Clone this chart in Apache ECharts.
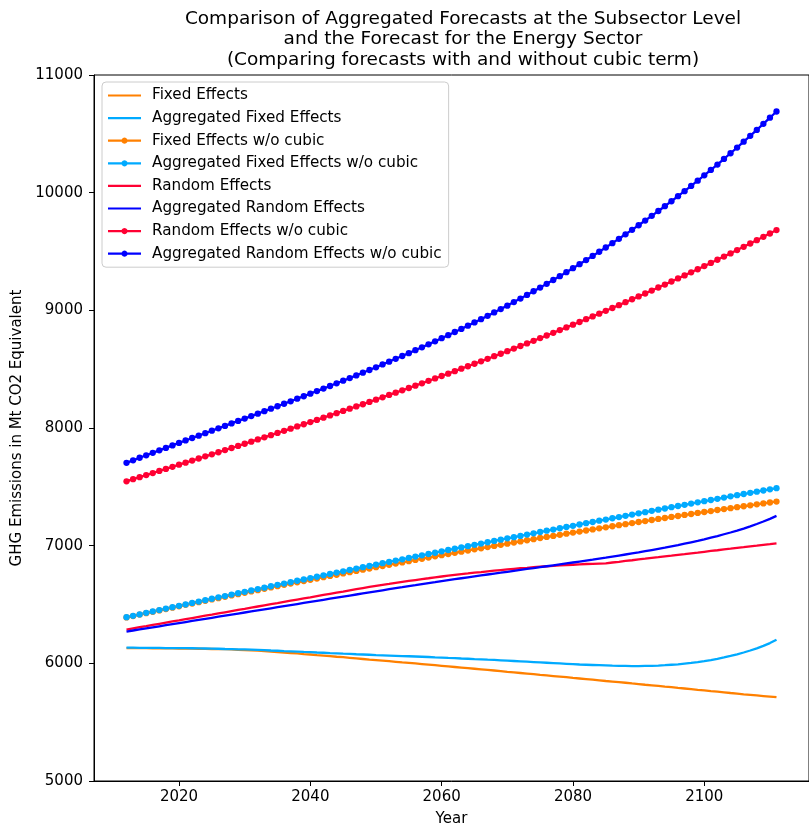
<!DOCTYPE html>
<html>
<head>
<meta charset="utf-8">
<script src="https://cdn.jsdelivr.net/npm/echarts@6/dist/echarts.min.js"></script>
<style>
  html, body { margin: 0; padding: 0; background: #fff; }
  #chart { width: 809px; height: 832px; }
</style>
</head>
<body>
<div id="chart"></div>
<script>
// Forecast years
const years = [];
for (let y = 2012; y <= 2111; y++) years.push(y);

// GHG emissions, Mt CO2 equivalent
const fixedEffects = [
  6130, 6130, 6129, 6129, 6128, 6128, 6127, 6127, 6126, 6126,
  6125, 6124, 6123, 6122, 6121, 6120, 6118, 6115, 6113, 6110,
  6108, 6104, 6100, 6096, 6092, 6088, 6084, 6079, 6075, 6070,
  6066, 6061, 6056, 6052, 6047, 6042, 6037, 6032, 6028, 6023,
  6018, 6013, 6008, 6004, 5999, 5994, 5989, 5984, 5979, 5974,
  5969, 5964, 5959, 5954, 5949, 5944, 5939, 5934, 5928, 5923,
  5918, 5913, 5908, 5902, 5897, 5892, 5887, 5882, 5876, 5871,
  5866, 5861, 5856, 5850, 5845, 5840, 5835, 5829, 5824, 5818,
  5813, 5808, 5802, 5797, 5791, 5786, 5781, 5775, 5770, 5764,
  5759, 5754, 5748, 5743, 5737, 5732, 5727, 5722, 5717, 5712
];

const aggFixedEffects = [
  6133, 6133, 6132, 6132, 6131, 6131, 6130, 6130, 6129, 6129,
  6128, 6127, 6126, 6125, 6124, 6122, 6121, 6119, 6118, 6116,
  6114, 6112, 6109, 6107, 6104, 6102, 6100, 6097, 6095, 6092,
  6090, 6087, 6085, 6082, 6080, 6077, 6075, 6073, 6070, 6068,
  6066, 6064, 6062, 6060, 6058, 6056, 6054, 6051, 6049, 6046,
  6044, 6041, 6039, 6036, 6034, 6031, 6029, 6026, 6023, 6020,
  6017, 6014, 6011, 6008, 6005, 6002, 5999, 5996, 5993, 5990,
  5988, 5986, 5984, 5982, 5980, 5979, 5978, 5977, 5977, 5978,
  5979, 5981, 5984, 5988, 5992, 5998, 6004, 6011, 6019, 6028,
  6038, 6050, 6063, 6077, 6092, 6109, 6127, 6148, 6172, 6200
];

const fixedNoCubic = [
  6390, 6402, 6414, 6426, 6438, 6450, 6461, 6473, 6485, 6497,
  6508, 6520, 6531, 6543, 6554, 6566, 6577, 6588, 6600, 6611,
  6622, 6633, 6645, 6656, 6667, 6678, 6689, 6699, 6710, 6721,
  6732, 6743, 6753, 6764, 6775, 6785, 6796, 6806, 6817, 6827,
  6838, 6848, 6858, 6868, 6879, 6889, 6899, 6909, 6919, 6929,
  6939, 6949, 6959, 6969, 6978, 6988, 6998, 7007, 7017, 7027,
  7036, 7046, 7055, 7065, 7074, 7083, 7092, 7102, 7111, 7120,
  7129, 7138, 7147, 7156, 7165, 7174, 7183, 7192, 7201, 7209,
  7218, 7227, 7235, 7244, 7252, 7261, 7269, 7278, 7286, 7294,
  7303, 7311, 7319, 7327, 7335, 7343, 7351, 7359, 7367, 7375
];

const aggFixedNoCubic = [
  6392, 6404, 6416, 6429, 6441, 6453, 6465, 6477, 6489, 6501,
  6513, 6525, 6537, 6549, 6561, 6572, 6584, 6596, 6608, 6620,
  6631, 6643, 6655, 6667, 6678, 6690, 6702, 6713, 6725, 6736,
  6748, 6759, 6771, 6782, 6794, 6805, 6817, 6828, 6839, 6851,
  6862, 6873, 6884, 6896, 6907, 6918, 6929, 6940, 6952, 6963,
  6974, 6985, 6996, 7007, 7018, 7029, 7040, 7051, 7062, 7072,
  7083, 7094, 7105, 7116, 7127, 7137, 7148, 7159, 7169, 7180,
  7191, 7201, 7212, 7222, 7233, 7243, 7254, 7264, 7275, 7285,
  7296, 7306, 7316, 7327, 7337, 7347, 7358, 7368, 7378, 7388,
  7398, 7409, 7419, 7429, 7439, 7449, 7459, 7469, 7479, 7489
];

const randomEffects = [
  6287, 6297, 6307, 6316, 6326, 6336, 6346, 6356, 6365, 6375,
  6385, 6395, 6405, 6414, 6424, 6434, 6444, 6454, 6463, 6473,
  6483, 6493, 6503, 6512, 6522, 6532, 6542, 6552, 6561, 6571,
  6581, 6591, 6601, 6610, 6620, 6630, 6640, 6649, 6658, 6667,
  6675, 6684, 6692, 6700, 6708, 6716, 6723, 6731, 6738, 6745,
  6752, 6758, 6764, 6771, 6776, 6782, 6788, 6793, 6798, 6803,
  6808, 6812, 6817, 6821, 6825, 6828, 6832, 6835, 6838, 6841,
  6844, 6846, 6848, 6850, 6857, 6863, 6870, 6876, 6883, 6889,
  6896, 6902, 6909, 6915, 6922, 6928, 6935, 6941, 6948, 6955,
  6961, 6968, 6974, 6981, 6987, 6994, 7000, 7007, 7013, 7020
];

const aggRandomEffects = [
  6270, 6279, 6288, 6297, 6306, 6315, 6324, 6333, 6342, 6351,
  6360, 6369, 6378, 6387, 6396, 6405, 6414, 6423, 6432, 6441,
  6450, 6459, 6468, 6477, 6486, 6495, 6504, 6513, 6522, 6531,
  6540, 6549, 6558, 6567, 6576, 6585, 6594, 6603, 6612, 6621,
  6630, 6639, 6647, 6656, 6664, 6673, 6682, 6690, 6699, 6707,
  6715, 6723, 6731, 6739, 6747, 6755, 6763, 6770, 6778, 6786,
  6794, 6802, 6809, 6817, 6825, 6833, 6841, 6849, 6857, 6865,
  6873, 6881, 6890, 6898, 6907, 6916, 6925, 6934, 6943, 6953,
  6963, 6973, 6983, 6994, 7005, 7017, 7029, 7041, 7054, 7068,
  7082, 7097, 7112, 7128, 7145, 7164, 7184, 7205, 7228, 7253
];

const randomNoCubic = [
  7547, 7565, 7582, 7600, 7617, 7635, 7652, 7670, 7688, 7705,
  7723, 7741, 7759, 7776, 7794, 7812, 7830, 7848, 7866, 7884,
  7903, 7921, 7939, 7958, 7976, 7994, 8013, 8032, 8050, 8069,
  8088, 8107, 8126, 8145, 8164, 8183, 8202, 8222, 8241, 8261,
  8281, 8300, 8320, 8340, 8360, 8380, 8401, 8421, 8442, 8462,
  8483, 8504, 8525, 8546, 8567, 8588, 8610, 8631, 8653, 8675,
  8697, 8719, 8741, 8764, 8786, 8809, 8832, 8855, 8878, 8901,
  8925, 8948, 8972, 8996, 9020, 9044, 9069, 9094, 9118, 9143,
  9168, 9194, 9219, 9245, 9271, 9297, 9323, 9349, 9376, 9403,
  9430, 9457, 9484, 9512, 9540, 9568, 9596, 9625, 9653, 9682
];

const aggRandomNoCubic = [
  7704, 7725, 7747, 7768, 7789, 7810, 7831, 7852, 7873, 7894,
  7915, 7935, 7956, 7977, 7997, 8018, 8039, 8060, 8080, 8101,
  8122, 8143, 8164, 8185, 8206, 8227, 8249, 8270, 8292, 8314,
  8335, 8357, 8380, 8402, 8424, 8447, 8470, 8493, 8516, 8540,
  8564, 8588, 8612, 8636, 8661, 8686, 8711, 8737, 8763, 8789,
  8816, 8842, 8870, 8897, 8925, 8953, 8982, 9011, 9040, 9070,
  9100, 9131, 9162, 9193, 9225, 9258, 9290, 9324, 9358, 9392,
  9427, 9462, 9498, 9534, 9571, 9608, 9646, 9684, 9723, 9763,
  9803, 9844, 9885, 9927, 9970, 10013, 10057, 10102, 10147, 10193,
  10239, 10287, 10335, 10383, 10433, 10483, 10533, 10585, 10637, 10690
];

const xTicks = [2020, 2040, 2060, 2080, 2100];

const ORANGE = '#ff8000';
const SKY = '#00aaff';
const RED = '#ff0033';
const BLUE = '#0000ff';
const FONT = 'DejaVu Sans';
const LINE_W = 2.3;

// legend glyphs: a plain stroke, and a stroke with a small round dot in the middle
// (both outlines wound the same way so the dot fills solid)
const ICON_LINE = 'path://M0,6 L33,6 L33,8.2 L0,8.2 Z';
const ICON_DOT = 'path://M0,6 L33,6 L33,8.2 L0,8.2 Z ' +
  'M19.6,7.1 L19.2,8.6 L18.1,9.7 L16.5,10.2 L14.9,9.7 L13.8,8.6 L13.4,7.1 L13.8,5.6 L14.9,4.5 L16.5,4 L18.1,4.5 L19.2,5.6 Z';

function pairs(vals) { return years.map((y, i) => [y, vals[i]]); }

function plain(name, vals, color) {
  return {
    name, type: 'line', data: pairs(vals),
    symbol: 'none', smooth: false,
    lineStyle: { color, width: LINE_W },
    itemStyle: { color },
    emphasis: { disabled: true }
  };
}
function dotted(name, vals, color) {
  return {
    name, type: 'line', data: pairs(vals),
    symbol: 'circle', symbolSize: 6.3, showSymbol: true, showAllSymbol: true,
    lineStyle: { color, width: LINE_W },
    itemStyle: { color, borderWidth: 0 },
    emphasis: { disabled: true }
  };
}

const axisText = { fontFamily: FONT, fontSize: 15, color: '#000' };

const chart = echarts.init(document.getElementById('chart'), null, { renderer: 'canvas' });
chart.setOption({
  animation: false,
  backgroundColor: '#ffffff',
  textStyle: { fontFamily: FONT },
  title: {
    text: 'Comparison of Aggregated Forecasts at the Subsector Level\nand the Forecast for the Energy Sector\n(Comparing forecasts with and without cubic term)',
    left: 458, top: 4, textAlign: 'center',
    textStyle: { fontFamily: FONT, fontSize: 18.5, fontWeight: 'normal', color: '#000', lineHeight: 20.3 }
  },
  grid: {
    left: 94, top: 75, width: 729, height: 710,
    show: true, borderColor: '#000', borderWidth: 1, backgroundColor: 'transparent'
  },
  legend: {
    orient: 'vertical', left: 102, top: 82,
    itemWidth: 33, itemHeight: 14, itemGap: 7.6,
    padding: [6, 7, 6, 6],
    backgroundColor: 'rgba(255,255,255,0.8)',
    borderColor: '#cccccc', borderWidth: 1, borderRadius: 4,
    textStyle: { fontFamily: FONT, fontSize: 15.2, color: '#000', padding: [0, 0, 0, 6] },
    data: [
      { name: 'Fixed Effects', icon: ICON_LINE },
      { name: 'Aggregated Fixed Effects', icon: ICON_LINE },
      { name: 'Fixed Effects w/o cubic', icon: ICON_DOT },
      { name: 'Aggregated Fixed Effects w/o cubic', icon: ICON_DOT },
      { name: 'Random Effects', icon: ICON_LINE },
      { name: 'Aggregated Random Effects', icon: ICON_LINE },
      { name: 'Random Effects w/o cubic', icon: ICON_DOT },
      { name: 'Aggregated Random Effects w/o cubic', icon: ICON_DOT }
    ]
  },
  xAxis: {
    type: 'value', min: 2007.05, max: 2115.95,
    name: 'Year', nameLocation: 'middle', nameGap: 31,
    nameTextStyle: axisText,
    axisLine: { show: true, lineStyle: { color: '#000', width: 1 } },
    axisTick: { show: true, length: 5, customValues: xTicks, lineStyle: { color: '#000' } },
    axisLabel: Object.assign({ customValues: xTicks, margin: 9, formatter: v => String(v) }, axisText),
    splitLine: { show: false }
  },
  yAxis: {
    type: 'value', min: 5000, max: 11000, interval: 1000,
    name: 'GHG Emissions in Mt CO2 Equivalent', nameLocation: 'middle', nameGap: 64,
    nameTextStyle: axisText,
    axisLine: { show: true, lineStyle: { color: '#000', width: 1 } },
    axisTick: { show: true, length: 5, lineStyle: { color: '#000' } },
    axisLabel: Object.assign({ margin: 11, formatter: v => String(v) }, axisText),
    splitLine: { show: false }
  },
  series: [
    plain('Fixed Effects', fixedEffects, ORANGE),
    plain('Aggregated Fixed Effects', aggFixedEffects, SKY),
    dotted('Fixed Effects w/o cubic', fixedNoCubic, ORANGE),
    dotted('Aggregated Fixed Effects w/o cubic', aggFixedNoCubic, SKY),
    plain('Random Effects', randomEffects, RED),
    plain('Aggregated Random Effects', aggRandomEffects, BLUE),
    dotted('Random Effects w/o cubic', randomNoCubic, RED),
    dotted('Aggregated Random Effects w/o cubic', aggRandomNoCubic, BLUE)
  ]
});
</script>
</body>
</html>
